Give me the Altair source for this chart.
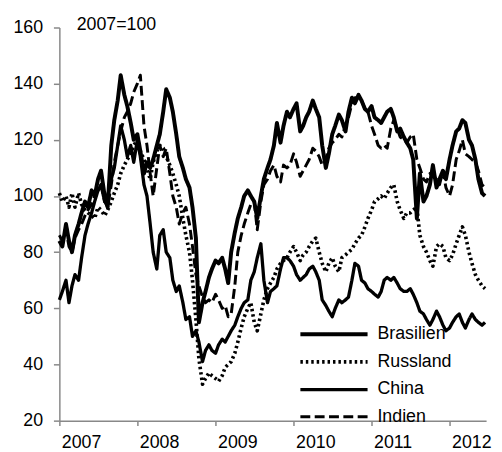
import altair as alt
import pandas as pd

countries = ["Brasilien", "Russland", "China", "Indien"]
year_labels = ["2007", "2008", "2009", "2010", "2011", "2012"]
y_ticks = [20, 40, 60, 80, 100, 120, 140, 160]

# semi-monthly readings (1st and 15th of each month), Jan 2007 - Jun 2012
brasilien = [84, 82, 90, 84, 80, 86, 90, 94, 98, 96, 102, 100,
             106, 109, 100, 96, 118, 127, 134, 143, 136, 132, 126, 120,
             122, 116, 108, 112, 110, 113, 118, 122, 130, 138, 135, 130,
             122, 114, 110, 106, 103, 96, 85, 55, 62, 66, 71, 74,
             77, 76, 78, 74, 69, 80, 87, 92, 96, 100, 102, 100,
             98, 92, 100, 106, 110, 113, 118, 126, 119, 125, 130, 128,
             131, 133, 123, 125, 128, 130, 134, 131, 128, 118, 110, 115,
             122, 125, 129, 127, 123, 130, 135, 133, 136, 134, 131, 130,
             132, 128, 127, 126, 128, 130, 131, 128, 123, 124, 121, 119,
             117, 113, 92, 108, 98, 100, 104, 111, 103, 106, 109, 106,
             113, 118, 123, 124, 127, 126, 120, 118, 113, 106, 101, 100]
russland = [101, 98, 100, 96, 101, 96, 101, 97, 95, 94, 93, 92,
            96, 95, 93, 95, 98, 101, 104, 108, 111, 113, 115, 118,
            120, 116, 113, 110, 106, 112, 116, 118, 117, 114, 111, 108,
            104, 100, 92, 86, 80, 70, 56, 42, 33, 35, 37, 36,
            35, 34, 36, 39, 40, 41, 44, 48, 53, 57, 60, 62,
            55, 52, 58, 63, 67, 69, 71, 74, 76, 77, 78, 80,
            82, 80, 77, 79, 80, 82, 84, 85, 80, 76, 73, 76,
            78, 75, 73, 78, 79, 80, 81, 83, 85, 86, 89, 92,
            95, 98, 99, 100, 99, 101, 103, 104, 98, 95, 92, 94,
            94, 95, 96, 86, 82, 80, 77, 75, 82, 83, 82, 78,
            77, 79, 83, 86, 89, 86, 80, 76, 72, 70, 68, 67]
china = [63, 66, 70, 62, 68, 72, 70, 78, 86, 90, 94, 98,
         102, 104, 98, 100, 106, 110, 118, 125, 120, 114, 118, 112,
         120, 114, 104, 100, 90, 80, 74, 86, 88, 80, 78, 70,
         66, 68, 62, 56, 57, 50, 52, 48, 41, 45, 47, 45,
         44, 47, 49, 48, 50, 52, 54, 57, 60, 62, 63, 70,
         73, 78, 83, 70, 62, 66, 67, 68, 74, 78, 78, 77,
         75, 72, 70, 71, 72, 74, 75, 73, 70, 63, 61, 59,
         57, 60, 63, 62, 63, 64, 70, 76, 75, 70, 69, 67,
         66, 65, 64, 66, 70, 71, 70, 71, 69, 67, 66, 66,
         67, 65, 62, 59, 58, 56, 54, 56, 59, 57, 54, 52,
         53, 55, 57, 58, 55, 53, 56, 58, 56, 55, 54, 55]
indien = [86, 84, 88, 82, 80, 85, 88, 90, 93, 95, 97, 100,
          102, 104, 98, 96, 104, 112, 118, 123, 128, 130, 133, 137,
          140, 143, 125, 118, 108, 100, 110, 118, 114, 117, 108, 100,
          96, 90, 94, 96, 90, 82, 72, 68, 64, 62, 63, 62,
          65, 63, 60, 61, 57, 58, 68, 80, 86, 90, 94, 97,
          98, 88, 98, 104, 106, 109, 111, 107, 105, 111, 110, 111,
          115, 112, 107, 109, 111, 113, 117, 116, 114, 111, 113, 117,
          119, 120, 122, 121, 125, 128, 133, 135, 135, 134, 131, 130,
          125, 122, 118, 117, 118, 117, 124, 127, 124, 121, 120, 119,
          121, 122, 113, 110, 106, 105, 108, 107, 106, 104, 109, 103,
          100, 104, 113, 116, 120, 115, 114, 113, 112, 109, 104, 103]

dates = []
for m in range(66):
    yr = 2007 + m // 12
    mo = m % 12 + 1
    dates.append(f"{yr}-{mo:02d}-01")
    dates.append(f"{yr}-{mo:02d}-15")

series = {"Brasilien": brasilien, "Russland": russland, "China": china, "Indien": indien}
rows = []
for name in countries:
    for d, v in zip(dates, series[name]):
        rows.append({"Datum": d, "Wert": v, "Land": name})
df = pd.DataFrame(rows)

FONT = "Liberation Sans"
GRAY = "#888888"


def make_legend():
    return alt.Legend(title=None, orient="none", legendX=242, legendY=300,
                      symbolType="M-1,0H7", symbolSize=289,
                      labelOffset=59, rowPadding=8,
                      labelFontSize=18, labelColor="black")


lines = alt.Chart(df).mark_line(strokeJoin="round").encode(
    x=alt.X("Datum:T",
            scale=alt.Scale(type="utc", domain=["2007-01-01", "2012-06-20"]),
            axis=alt.Axis(title=None, format="%Y",
                          tickCount=alt.TimeIntervalStep(interval="year", step=1),
                          labelAlign="left", labelOffset=2, labelPadding=8,
                          tickSize=5, labelFlush=False, labelOverlap=False,
                          grid=False)),
    y=alt.Y("Wert:Q",
            scale=alt.Scale(domain=[20, 160], nice=False, zero=False),
            axis=alt.Axis(values=y_ticks, title="2007=100", titleAngle=0,
                          titleAlign="left", titleBaseline="alphabetic",
                          titleX=17, titleY=2, tickSize=6, labelPadding=11,
                          grid=False)),
    color=alt.Color("Land:N",
                    scale=alt.Scale(domain=countries,
                                    range=["black", "black", "black", "black"]),
                    legend=make_legend()),
    strokeDash=alt.StrokeDash("Land:N",
                              scale=alt.Scale(domain=countries,
                                              range=[[1, 0], [2.5, 3], [1, 0], [10, 4.5]]),
                              legend=make_legend()),
    strokeWidth=alt.StrokeWidth("Land:N",
                                scale=alt.Scale(domain=countries, range=[4, 3, 2.5, 3.5]),
                                legend=make_legend()),
)

chart = lines.properties(
    width=432, height=398,
    autosize=alt.AutoSizeParams(type="none"),
    padding={"left": 52, "top": 17, "right": 8, "bottom": 29},
).configure(
    font=FONT,
).configure_view(
    stroke=None,
).configure_axis(
    domainColor=GRAY, domainWidth=1.5, tickColor=GRAY, tickWidth=1.5,
    labelFont=FONT, labelFontSize=18, labelColor="black",
    titleFont=FONT, titleFontSize=18, titleFontWeight="normal", titleColor="black",
).configure_legend(
    labelFont=FONT, padding=0, symbolStrokeColor="black",
)

chart.save("out.html", embed_options={"renderer": "svg", "actions": False})
